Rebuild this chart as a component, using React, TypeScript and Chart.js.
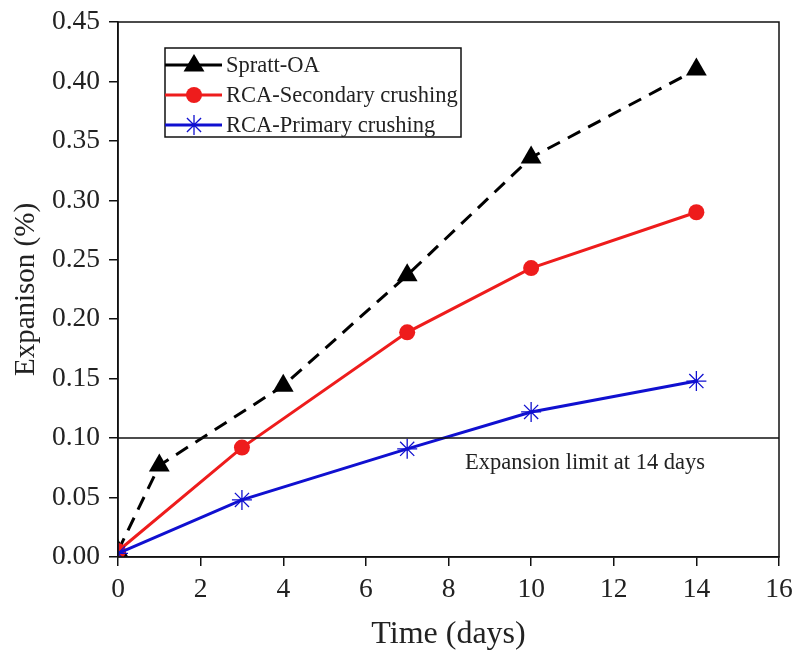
import React, { useEffect, useRef } from "react";
import { Chart, registerables } from "chart.js";

Chart.register(...registerables);

const SPRATT_X = [0, 1, 4, 7, 10, 14];
const SPRATT_Y = [0.005, 0.077, 0.144, 0.237, 0.336, 0.41];
const SEC_X = [0, 3, 7, 10, 14];
const SEC_Y = [0.005, 0.092, 0.189, 0.243, 0.29];
const PRI_X = [0, 3, 7, 10, 14];
const PRI_Y = [0.003, 0.048, 0.091, 0.122, 0.148];
const LIMIT_X = [0, 16];
const LIMIT_Y = [0.1, 0.1];
const LIMIT_LABEL = "Expansion limit at 14 days";
const LIMIT_LABEL_X = 8.4;
const SERIES_NAMES = ["Spratt-OA", "RCA-Secondary crushing", "RCA-Primary crushing"];
const X_TITLE = "Time (days)";
const Y_TITLE = "Expanison (%)";

const FONT = "'Liberation Serif', 'Times New Roman', serif";
const BLUE = "#1010d0";
const RED = "#ee1c1c";

const zip = (xs: number[], ys: number[]) => xs.map((x, i) => ({ x, y: ys[i] }));

function drawMarker(ctx: CanvasRenderingContext2D, kind: string, x: number, y: number, color: string) {
  ctx.save();
  ctx.fillStyle = color;
  ctx.strokeStyle = color;
  if (kind === "triangle") {
    const r = 11;
    ctx.beginPath();
    ctx.moveTo(x, y - r);
    ctx.lineTo(x + r * 0.95, y + r * 0.6);
    ctx.lineTo(x - r * 0.95, y + r * 0.6);
    ctx.closePath();
    ctx.fill();
  } else if (kind === "circle") {
    ctx.beginPath();
    ctx.arc(x, y, 8, 0, Math.PI * 2);
    ctx.fill();
  } else {
    const r = 10;
    ctx.lineWidth = 1.3;
    ctx.beginPath();
    for (let k = 0; k < 4; k++) {
      const a = (k * Math.PI) / 4;
      ctx.moveTo(x - r * Math.sin(a), y - r * Math.cos(a));
      ctx.lineTo(x + r * Math.sin(a), y + r * Math.cos(a));
    }
    ctx.stroke();
  }
  ctx.restore();
}

const customPlugin = {
  id: "custom",
  afterDraw(chart: any) {
    const { ctx, chartArea } = chart;
    const xs = chart.scales.x;
    const ys = chart.scales.y;
    // frame
    ctx.save();
    ctx.strokeStyle = "#111";
    ctx.lineWidth = 1.5;
    ctx.strokeRect(chartArea.left, chartArea.top, chartArea.right - chartArea.left, chartArea.bottom - chartArea.top);
    ctx.restore();

    // limit label
    ctx.save();
    ctx.font = `22.5px ${FONT}`;
    ctx.fillStyle = "#222";
    ctx.textBaseline = "middle";
    ctx.textAlign = "left";
    ctx.fillText(LIMIT_LABEL, xs.getPixelForValue(LIMIT_LABEL_X), ys.getPixelForValue(LIMIT_Y[0]) + 25);
    ctx.restore();

    // legend
    const bx = chartArea.left + 47;
    const by = chartArea.top + 26;
    const bw = 296;
    const bh = 89;
    ctx.save();
    ctx.fillStyle = "#fff";
    ctx.fillRect(bx, by, bw, bh);
    ctx.strokeStyle = "#111";
    ctx.lineWidth = 1.5;
    ctx.strokeRect(bx, by, bw, bh);
    const items = [
      { color: "#000", kind: "triangle" },
      { color: RED, kind: "circle" },
      { color: BLUE, kind: "star" },
    ];
    items.forEach((it, i) => {
      const y = by + 17 + i * 30;
      ctx.strokeStyle = it.color;
      ctx.lineWidth = 3;
      ctx.beginPath();
      ctx.moveTo(bx, y);
      ctx.lineTo(bx + 57, y);
      ctx.stroke();
      drawMarker(ctx, it.kind, bx + 29, y, it.color);
      ctx.font = `22.5px ${FONT}`;
      ctx.fillStyle = "#222";
      ctx.textBaseline = "middle";
      ctx.textAlign = "left";
      ctx.fillText(SERIES_NAMES[i], bx + 61, y + 1);
    });
    ctx.restore();
  },
};

export default function App() {
  const ref = useRef<HTMLCanvasElement>(null);
  useEffect(() => {
    document.body.style.margin = "0";
    const chart = new Chart(ref.current!, {
      type: "scatter",
      data: {
        datasets: [
          {
            label: "limit",
            data: zip(LIMIT_X, LIMIT_Y),
            showLine: true,
            borderColor: "#111",
            borderWidth: 1.5,
            pointRadius: 0,
          },
          {
            label: SERIES_NAMES[2],
            data: zip(PRI_X, PRI_Y),
            showLine: true,
            borderColor: BLUE,
            borderWidth: 3,
            pointStyle: "star",
            pointRadius: 10,
            pointBorderWidth: 1.3,
            pointBorderColor: BLUE,
            pointBackgroundColor: BLUE,
          },
          {
            label: SERIES_NAMES[1],
            data: zip(SEC_X, SEC_Y),
            showLine: true,
            borderColor: RED,
            borderWidth: 3,
            pointStyle: "circle",
            pointRadius: 8,
            pointBorderWidth: 0,
            pointBackgroundColor: RED,
          },
          {
            label: SERIES_NAMES[0],
            data: zip(SPRATT_X, SPRATT_Y),
            showLine: true,
            borderColor: "#000",
            borderWidth: 3,
            borderDash: [14, 9],
            pointStyle: "triangle",
            pointRadius: 12,
            pointBorderWidth: 0,
            pointBackgroundColor: "#000",
          },
        ],
      },
      options: {
        animation: false,
        responsive: false,
        maintainAspectRatio: false,
        layout: { padding: { top: 22, right: 19, left: 0, bottom: 0 } },
        plugins: { legend: { display: false }, tooltip: { enabled: false } },
        scales: {
          x: {
            type: "linear",
            min: 0,
            max: 16,
            afterFit: (s: any) => {
              s.height = 101;
              s.paddingLeft = 0;
              s.paddingRight = 0;
            },
            ticks: { stepSize: 2, color: "#222", font: { family: FONT, size: 27.5 }, padding: 7 },
            grid: { drawOnChartArea: false, tickLength: 9, color: "#111", lineWidth: 1.5 },
            border: { color: "#111", width: 1.5 },
            title: { display: true, text: X_TITLE, color: "#222", font: { family: FONT, size: 32 }, padding: { top: 6 } },
          },
          y: {
            type: "linear",
            min: 0,
            max: 0.45,
            afterFit: (s: any) => {
              s.width = 118;
              s.paddingTop = 0;
              s.paddingBottom = 0;
            },
            ticks: {
              stepSize: 0.05,
              color: "#222",
              font: { family: FONT, size: 27.5 },
              padding: 9,
              callback: (v: any) => Number(v).toFixed(2),
            },
            grid: { drawOnChartArea: false, tickLength: 9, color: "#111", lineWidth: 1.5 },
            border: { color: "#111", width: 1.5 },
            title: { display: true, text: Y_TITLE, color: "#222", font: { family: FONT, size: 29 }, padding: { top: 9, bottom: 0 } },
          },
        },
      },
      plugins: [customPlugin],
    });
    return () => chart.destroy();
  }, []);
  return (
    <div style={{ width: 798, height: 658 }}>
      <canvas ref={ref} width={798} height={658} style={{ display: "block" }} />
    </div>
  );
}
